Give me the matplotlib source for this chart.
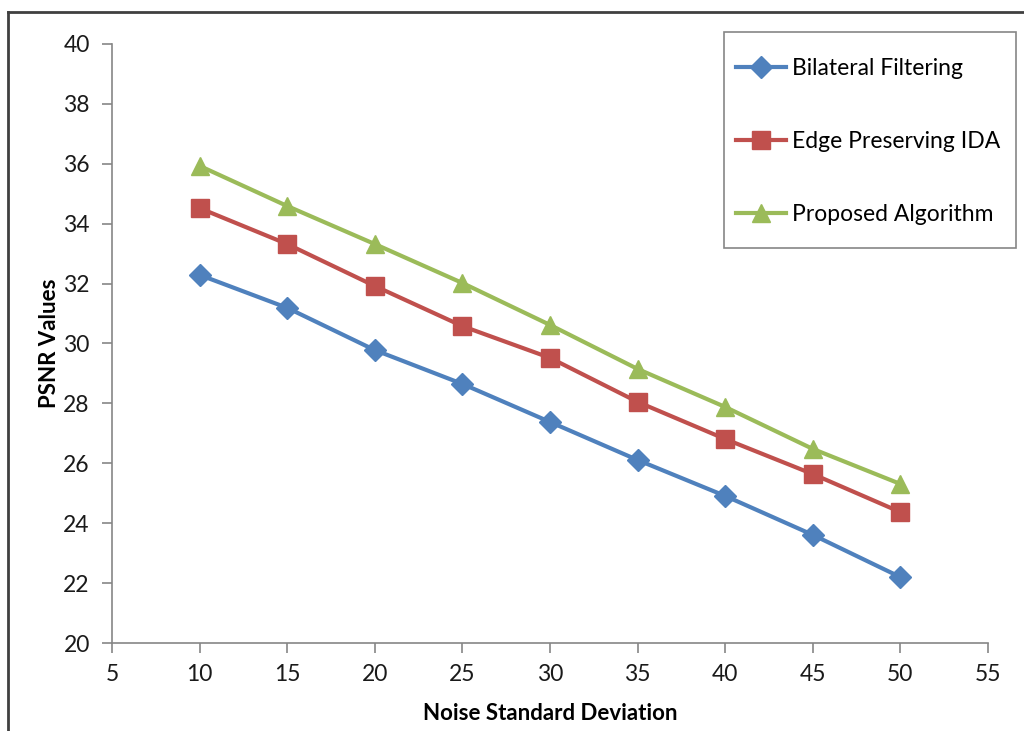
import matplotlib
matplotlib.use("Agg")
import matplotlib.pyplot as plt
from matplotlib.lines import Line2D
from matplotlib.patches import Rectangle

# data
noise_sd = [10, 15, 20, 25, 30, 35, 40, 45, 50]
bilateral = [32.29, 31.19, 29.78, 28.65, 27.38, 26.11, 24.91, 23.61, 22.20]
edge_ida = [34.52, 33.32, 31.92, 30.58, 29.52, 28.05, 26.81, 25.64, 24.37]
proposed = [35.93, 34.59, 33.32, 32.02, 30.62, 29.15, 27.88, 26.48, 25.31]

series = [
    ("Bilateral Filtering", bilateral, "#4F81BD", "D", 11),
    ("Edge Preserving IDA", edge_ida, "#C0504D", "s", 13),
    ("Proposed Algorithm", proposed, "#9BBB59", "^", 13),
]

plt.rcParams["font.family"] = ["Lato", "DejaVu Sans"]

W, H = 1024, 731
fig = plt.figure(figsize=(W / 100, H / 100), dpi=100)
ax = fig.add_axes([112 / W, 1 - 643 / H, 876 / W, 599 / H])

for label, vals, color, marker, ms in series:
    ax.plot(noise_sd, vals, color=color, lw=3, marker=marker, ms=ms,
            markeredgecolor=color, label=label)

ax.set_xlim(5, 55)
ax.set_ylim(20, 40)
ax.set_xticks(range(5, 56, 5))
ax.set_yticks(range(20, 41, 2))
for side in ("top", "right"):
    ax.spines[side].set_visible(False)
for side in ("left", "bottom"):
    ax.spines[side].set_color("#868686")
    ax.spines[side].set_linewidth(1.2)
ax.tick_params(colors="#868686", labelcolor="#1a1a1a", labelsize=16.5,
               length=7, width=1.2, direction="out")
ax.tick_params(axis="y", pad=9)
ax.tick_params(axis="x", pad=8)

ax.set_xlabel("Noise Standard Deviation", fontsize=16, fontweight="bold", labelpad=13)
ax.set_ylabel("PSNR Values", fontsize=16, fontweight="bold", labelpad=2)

# legend box drawn separately so the inset can be matched
fig.add_artist(Rectangle((724 / W, 1 - 248 / H), 292 / W, 216 / H,
                         transform=fig.transFigure, facecolor="white",
                         edgecolor="#868686", lw=1.2, zorder=3))
leg = fig.legend(loc="upper left", bbox_to_anchor=(736 / W, 1 - 58 / H),
                 fontsize=16.5, frameon=False, labelspacing=2.26,
                 handlelength=2.2, handletextpad=0.26, borderpad=0,
                 borderaxespad=0)
leg.set_zorder(4)

# outer chart border (left and top visible)
fig.add_artist(Line2D([8 / W, 8 / W], [0, 1 - 12 / H],
                      transform=fig.transFigure, color="#404040", lw=2))
fig.add_artist(Line2D([8 / W, 1], [1 - 12 / H, 1 - 12 / H],
                      transform=fig.transFigure, color="#404040", lw=2))

fig.savefig("out.png", dpi=100)
